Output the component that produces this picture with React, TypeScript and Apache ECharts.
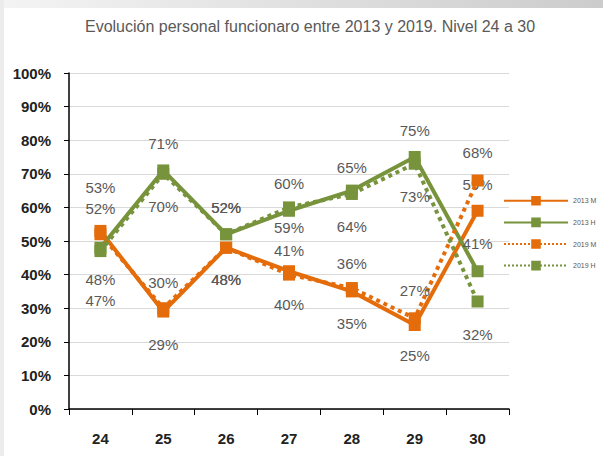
import React, { useEffect, useRef } from "react";
import * as echarts from "echarts";

const categories = ["24", "25", "26", "27", "28", "29", "30"];
const yTicks = [0, 10, 20, 30, 40, 50, 60, 70, 80, 90, 100];

const m2013 = [53, 29, 48, 41, 35, 25, 59];
const m2019 = [52, 30, 48, 40, 36, 27, 68];
const h2013 = [48, 71, 52, 59, 65, 75, 41];
const h2019 = [47, 70, 52, 60, 64, 73, 32];

const seriesNames = ["2013 M", "2013 H", "2019 M", "2019 H"];

// vertical label offsets (px) from each point
const offM2013 = [-43, 33, 32, -21, 32, 30, -26];
const offM2019 = [-26, -26, 32, 30, -25, -28, -28];
const offH2013 = [32, -27, -27, 17, -23, -27, -28];
const offH2019 = [49, 33, -27, -24, 33, 33, 33];

const ORANGE = "#E46C0A";
const GREEN = "#77933C";
const FONT = "Liberation Sans, Arial, sans-serif";

function mk(name: string, values: number[], offs: number[], color: string, dotted: boolean) {
  return {
    name,
    type: "line",
    data: values.map((v, i) => ({
      value: v,
      label: { show: true, position: "inside", offset: [0, offs[i]] },
    })),
    symbol: "rect",
    symbolSize: 12,
    itemStyle: { color },
    lineStyle: { color, width: 4, type: dotted ? "dotted" : "solid" },
    label: {
      show: true,
      formatter: (p: any) => p.value + "%",
      color: "#595959",
      fontSize: 15,
      fontFamily: FONT,
    },
    z: dotted ? 3 : 2,
  };
}

export default function App() {
  const ref = useRef<HTMLDivElement>(null);
  useEffect(() => {
    document.body.style.margin = "0";
    const chart = echarts.init(ref.current!, undefined, { renderer: "svg" });
    chart.setOption({
      animation: false,
      backgroundColor: "#ffffff",
      title: {
        text: "Evolución personal funcionaro entre 2013 y 2019. Nivel 24 a 30",
        left: 305,
        textAlign: "center",
        top: 13,
        textStyle: { color: "#595959", fontSize: 16, fontWeight: "normal", fontFamily: FONT },
      },
      graphic: [
        {
          type: "rect",
          shape: { x: 0, y: 0, width: 603, height: 8 },
          style: {
            fill: new echarts.graphic.LinearGradient(0, 0, 1, 0, [
              { offset: 0, color: "#f4f4f4" },
              { offset: 1, color: "#cccccc" },
            ]),
          },
          silent: true,
        },
        {
          type: "rect",
          shape: { x: 0, y: 0, width: 4, height: 456 },
          style: { fill: "#ececec" },
          silent: true,
        },
      ],
      legend: {
        orient: "vertical",
        left: 498,
        top: 191,
        itemWidth: 64,
        itemHeight: 12,
        itemGap: 12,
        data: seriesNames,
        textStyle: { color: "#595959", fontSize: 7, fontFamily: FONT },
      },
      grid: { left: 69, right: 94, top: 73, bottom: 47 },
      xAxis: {
        type: "category",
        data: categories,
        boundaryGap: true,
        axisLine: { lineStyle: { color: "#000", width: 1.5 } },
        axisTick: { show: true, length: 6, lineStyle: { color: "#000" } },
        axisLabel: { color: "#222", fontSize: 15, fontWeight: "bold", fontFamily: FONT, margin: 22 },
      },
      yAxis: {
        type: "value",
        min: yTicks[0],
        max: yTicks[yTicks.length - 1],
        interval: 10,
        axisLine: { show: true, lineStyle: { color: "#000", width: 1.5 } },
        axisTick: { show: true, length: 5, lineStyle: { color: "#000" } },
        axisLabel: {
          formatter: "{value}%",
          color: "#222",
          fontSize: 15,
          fontWeight: "bold",
          fontFamily: FONT,
          margin: 18,
        },
        splitLine: { lineStyle: { color: "#d9d9d9", width: 1 } },
      },
      series: [
        mk(seriesNames[0], m2013, offM2013, ORANGE, false),
        mk(seriesNames[1], h2013, offH2013, GREEN, false),
        mk(seriesNames[2], m2019, offM2019, ORANGE, true),
        mk(seriesNames[3], h2019, offH2019, GREEN, true),
      ],
    });
    return () => chart.dispose();
  }, []);
  return <div ref={ref} style={{ width: 603, height: 456 }} />;
}
